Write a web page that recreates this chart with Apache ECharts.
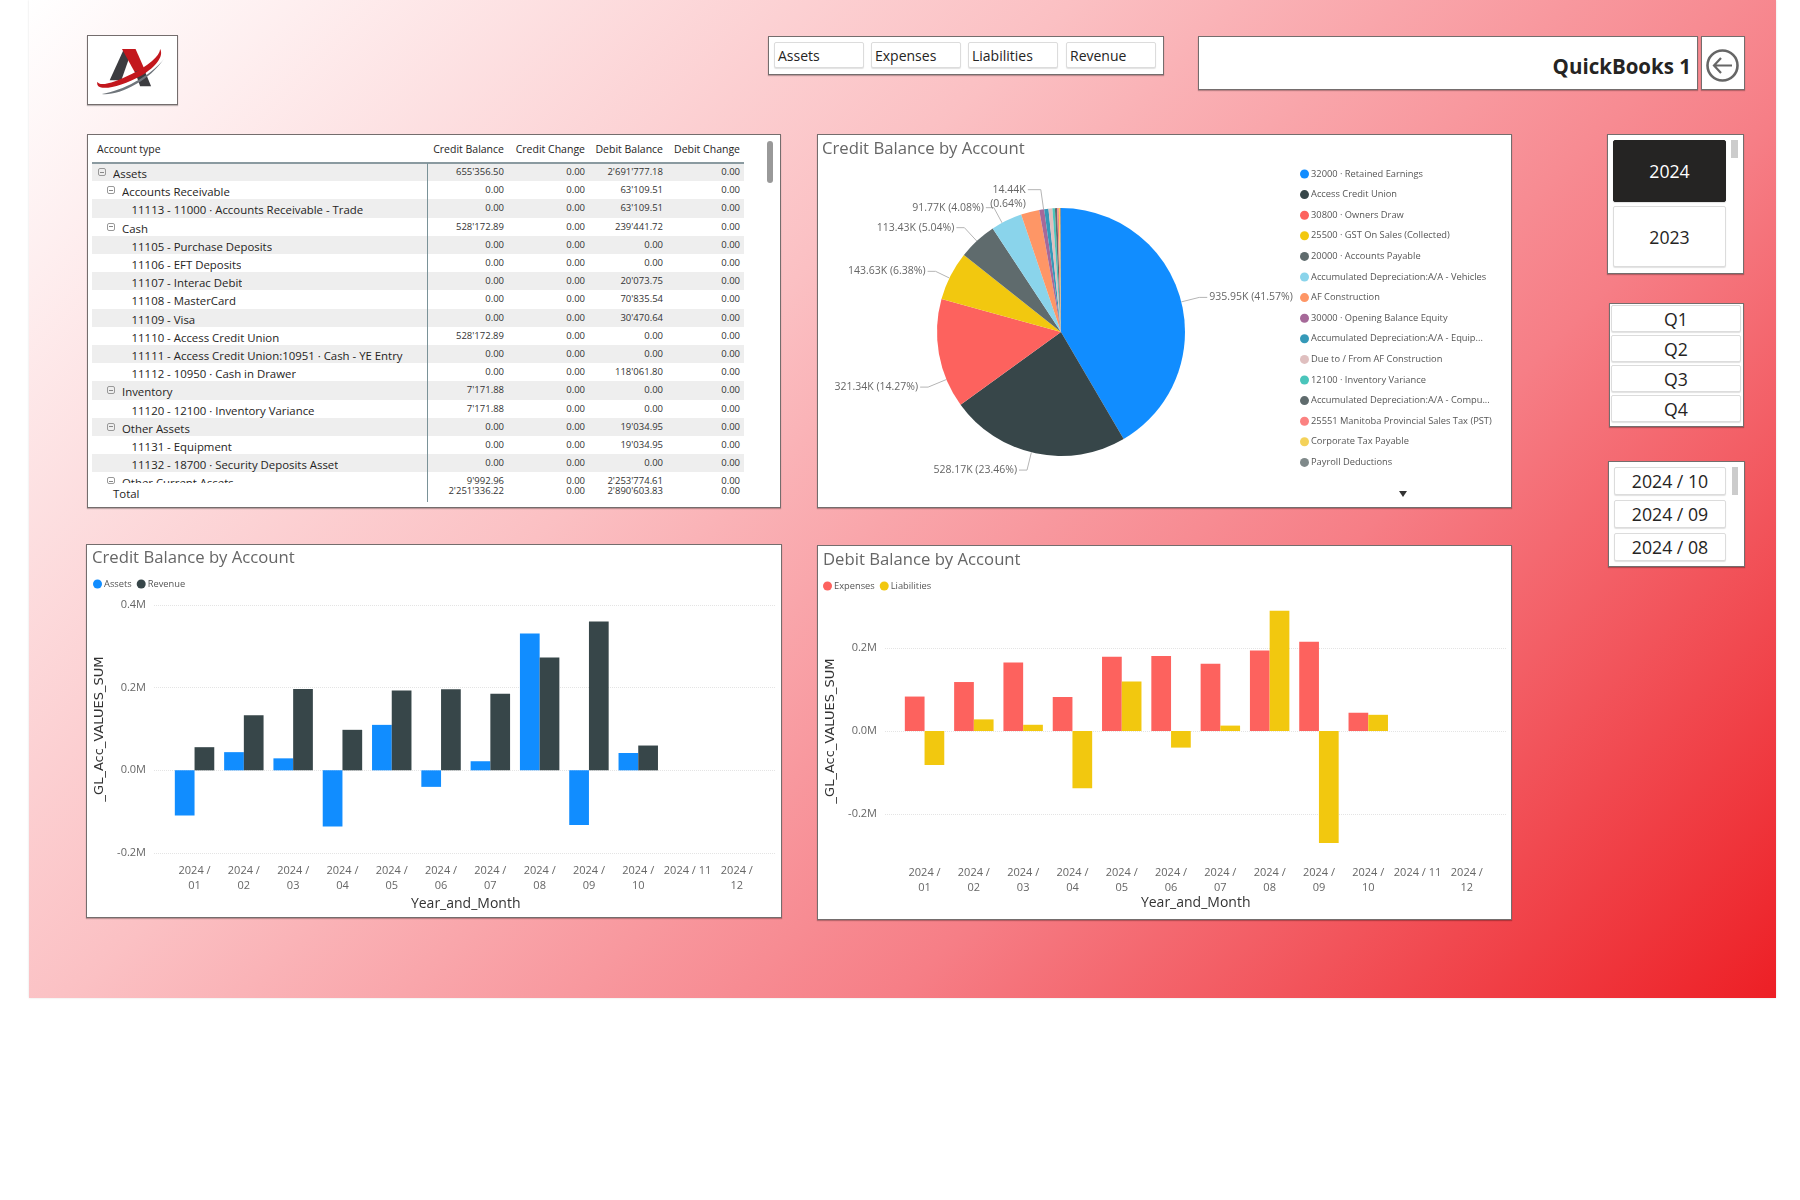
<!DOCTYPE html>
<html>
<head>
<meta charset="utf-8">
<script src="https://cdn.jsdelivr.net/npm/echarts@6/dist/echarts.min.js"></script>
<style>
html,body{margin:0;padding:0;background:#fff;width:1800px;height:1200px;overflow:hidden;font-family:"Open Sans","Noto Sans",sans-serif;color:#252423}
#bg{position:absolute;left:29px;top:0;width:1747px;height:998px;background:linear-gradient(135deg,#fff 0%,#fbc0c3 38%,#f67e86 68%,#ed1f25 100%);box-shadow:0 0 2px rgba(0,0,0,.12)}
.panel{position:absolute;background:#fff;border:1px solid rgba(70,60,60,.75);box-sizing:border-box;box-shadow:0 1px 1px rgba(0,0,0,.25)}
.btn{position:absolute;background:#fff;border:1px solid #dcdcdc;box-sizing:border-box;border-radius:2px;box-shadow:0 1px 1px rgba(0,0,0,.12);display:flex;align-items:center;justify-content:center;font-size:17.7px;color:#252423}
.btn.left{justify-content:flex-start;padding-left:3px;font-size:14px}
.btn.on{background:#252423;color:#fff;border-color:#252423}
.scroll{position:absolute;background:#ccc;z-index:3}
#chart{position:absolute;left:0;top:0;width:1800px;height:1200px;z-index:2}
.t{position:absolute;white-space:nowrap}
.row{position:absolute;left:92px;width:652px;height:18.2px}
.lab{position:absolute;font-size:11.4px;color:#252423;white-space:nowrap}
.num{position:absolute;font-size:9.5px;color:#333;text-align:right;white-space:nowrap;width:80px}
.hdr{position:absolute;font-size:10.5px;color:#252423;text-align:right;white-space:nowrap;width:90px;top:141px;line-height:16px}
.exp{position:absolute;width:8px;height:8px;border:1px solid #999;border-radius:2px;box-sizing:border-box}
.exp:after{content:"";position:absolute;left:1px;right:1px;top:2.5px;height:1px;background:#888}
</style>
</head>
<body>
<div id="bg"></div>
<div id="ui"></div>
<div id="chart"></div>
<script>
// ---------- data ----------
const months = ['2024 /\n01','2024 /\n02','2024 /\n03','2024 /\n04','2024 /\n05','2024 /\n06','2024 /\n07','2024 /\n08','2024 /\n09','2024 /\n10','2024 / 11','2024 /\n12'];
const assets      = [-0.109,0.044,0.029,-0.136,0.110,-0.040,0.022,0.331,-0.132,0.042,null,null];
const revenue     = [0.056,0.133,0.197,0.098,0.193,0.196,0.185,0.273,0.360,0.060,null,null];
const expenses    = [0.083,0.118,0.165,0.082,0.179,0.181,0.162,0.194,0.215,0.044,null,null];
const liabilities = [-0.082,0.028,0.015,-0.138,0.119,-0.040,0.013,0.290,-0.270,0.039,null,null];

const pieNames = ['32000 · Retained Earnings','Access Credit Union','30800 · Owners Draw','25500 · GST On Sales (Collected)','20000 · Accounts Payable','Accumulated Depreciation:A/A - Vehicles','AF Construction','30000 · Opening Balance Equity','Accumulated Depreciation:A/A - Equip...','Due to / From AF Construction','12100 · Inventory Variance','Accumulated Depreciation:A/A - Compu...','25551 Manitoba Provincial Sales Tax (PST)','Corporate Tax Payable','Payroll Deductions'];
const pieValues = [935.95,528.17,321.34,143.63,113.43,91.77,53.9,14.44,12.5,11.5,7.17,6.5,4.8,3.8,2.6];
const pieLabelled = [true,true,true,true,true,true,false,true,false,false,false,false,false,false,false];
const pieColors = ['#118DFF','#374649','#FD625E','#F2C80F','#5F6B6D','#8AD4EB','#FE9666','#A66999','#3599B8','#DFBFBF','#4AC5BB','#5F6B6D','#FB8281','#F4D25A','#7F898A'];

const tableHeaders = ['Credit Balance','Credit Change','Debit Balance','Debit Change'];
const accountTypes = ['Assets','Accounts Receivable','11113 - 11000 · Accounts Receivable - Trade','Cash','11105 - Purchase Deposits','11106 - EFT Deposits','11107 - Interac Debit','11108 - MasterCard','11109 - Visa','11110 - Access Credit Union','11111 - Access Credit Union:10951 · Cash - YE Entry','11112 - 10950 · Cash in Drawer','Inventory','11120 - 12100 · Inventory Variance','Other Assets','11131 - Equipment','11132 - 18700 · Security Deposits Asset','Other Current Assets'];
const accountLevels = [0,1,2,1,2,2,2,2,2,2,2,2,1,2,1,2,2,1];
const creditBalance = ["655'356.50","0.00","0.00","528'172.89","0.00","0.00","0.00","0.00","0.00","528'172.89","0.00","0.00","7'171.88","7'171.88","0.00","0.00","0.00","9'992.96"];
const creditChange  = ["0.00","0.00","0.00","0.00","0.00","0.00","0.00","0.00","0.00","0.00","0.00","0.00","0.00","0.00","0.00","0.00","0.00","0.00"];
const debitBalance  = ["2'691'777.18","63'109.51","63'109.51","239'441.72","0.00","0.00","20'073.75","70'835.54","30'470.64","0.00","0.00","118'061.80","0.00","0.00","19'034.95","19'034.95","0.00","2'253'774.61"];
const debitChange   = ["0.00","0.00","0.00","0.00","0.00","0.00","0.00","0.00","0.00","0.00","0.00","0.00","0.00","0.00","0.00","0.00","0.00","0.00"];
const totalRow = ["2'251'336.22","0.00","2'890'603.83","0.00"];

const typeButtons = ['Assets','Expenses','Liabilities','Revenue'];
const yearButtons = ['2024','2023'];
const quarterButtons = ['Q1','Q2','Q3','Q4'];
const monthButtons = ['2024 / 10','2024 / 09','2024 / 08'];

// ---------- page furniture ----------
const ui = document.getElementById('ui');
function box(cls,l,t,w,h,text){const d=document.createElement('div');d.className=cls;d.style.cssText=`left:${l}px;top:${t}px;width:${w}px;height:${h}px`;if(text!==undefined)d.textContent=text;ui.appendChild(d);return d;}
box('panel',87,35,91,70).innerHTML='<svg viewBox="6 15 273 210" width="89" height="68" style="display:block"><path d="M72 152L116 55H142L108 152Z" fill="#3c3c40"/><path d="M110 55H152L184 128H150Z" fill="#c3171d"/><path d="M150 125L178 118L200 170H166Z" fill="#3c3c40"/><path d="M34 156C26 190 100 176 172 136C214 110 240 78 228 55C226 78 190 108 140 132C90 156 42 174 34 156Z" fill="#c3171d"/><path d="M48 194C100 200 194 154 240 85C200 138 110 184 48 194Z" fill="#6f757b"/></svg>';
box('panel',768,36,396,39);
const typeX=[774,871,968,1066];
typeButtons.forEach((s,i)=>box('btn left',typeX[i],42,90,26,s));
const tb=box('panel',1198,36,500,54);
const tt=document.createElement('div');tt.className='t';tt.style.cssText='right:6px;top:10px;font-size:20.5px;font-weight:700;line-height:38px;color:#252423';tt.textContent='QuickBooks 1';tb.appendChild(tt);
box('panel',1701,36,44,54).innerHTML='<svg width="42" height="52" viewBox="0 0 42 52" style="display:block"><circle cx="20.5" cy="28.5" r="15" fill="none" stroke="#666" stroke-width="2.6"/><path d="M12 28.5H30M19 21L12 28.5L19 36" fill="none" stroke="#666" stroke-width="2.2"/></svg>';
box('panel',87,134,694,374);
box('panel',817,134,695,374);
box('panel',86,544,696,374);
box('panel',817,545,695,375);
box('panel',1607,134,137,140);
box('btn on',1613,140,113,62,yearButtons[0]);
box('btn',1613,206,113,61,yearButtons[1]);
box('scroll',1731,140,7,18);
box('panel',1609,303,135,124);
const qY=[305,335,365,395];
quarterButtons.forEach((q,i)=>box('btn',1611,qY[i],130,27,q));
box('panel',1608,461,137,106);
const mY=[467,500,533];
monthButtons.forEach((m,i)=>box('btn',1614,mY[i],112,28,m));
box('scroll',1732,467,6,28);
box('t',1398,489,10,10).innerHTML='<svg width="10" height="10" style="display:block"><path d="M1 2H9L5 8Z" fill="#333"/></svg>';

// ---------- table ----------
const colRight=[504,585,663,740];
const colData=[creditBalance,creditChange,debitBalance,debitChange];
const rowH=18.2,rowTop=163;
function tx(cls,css,text,parent){const d=document.createElement('div');d.className=cls;d.style.cssText=css;d.textContent=text;(parent||ui).appendChild(d);return d;}
tx('lab','left:97px;top:141px;font-size:10.5px;line-height:16px','Account type');
tableHeaders.forEach((h,i)=>tx('hdr',`left:${colRight[i]-90}px`,h));
const clip=document.createElement('div');clip.style.cssText=`position:absolute;left:0;top:${rowTop}px;width:800px;height:323px;overflow:hidden`;ui.appendChild(clip);
const textX=[113,122,131.6],expX=[97.5,106.7];
accountTypes.forEach((name,i)=>{
  const top=i*rowH;
  if(i%2===0&&i<17){const b=document.createElement('div');b.className='row';b.style.cssText=`top:${top}px;background:#eeeeee`;clip.appendChild(b);}
  const last=i===17;
  tx('lab',`left:${textX[accountLevels[i]]}px;top:${top}px;line-height:22px;height:${last?11:22}px;overflow:hidden`,name,clip);
  if(accountLevels[i]<2){const e=document.createElement('div');e.className='exp';e.style.cssText=`left:${expX[accountLevels[i]]}px;top:${top+5}px;${last?'height:7px;':''}`;clip.appendChild(e);}
  colData.forEach((c,j)=>tx('num',`left:${colRight[j]-80}px;top:${top}px;line-height:18px`,c[i],clip));
});
tx('lab','left:113px;top:483px;line-height:22px','Total');
totalRow.forEach((v,j)=>tx('num',`left:${colRight[j]-80}px;top:482px;line-height:18px`,v));
box('t',92,162,652,1.5).style.background='#8a9aa0';
box('t',427,163,1,339).style.background='#7a9298';
box('t',767,141,6,42).style.cssText+=';background:#999;border-radius:3px';

// ---------- chart ----------
const c = echarts.init(document.getElementById('chart'),null,{renderer:'canvas'});
const FONT='"Open Sans","Noto Sans",sans-serif';
const axisLabelStyle={color:'#666',fontSize:11,fontFamily:FONT};
const gridLine={show:true,lineStyle:{color:'#e4e4e4',type:'dotted',width:1}};
function gridValueAxis(idx,min,max,trim){return {gridIndex:idx,type:'value',min,max,interval:0.2,axisLine:{show:false},axisTick:{show:false},
  splitLine:Object.assign({},gridLine,trim?{showMinLine:false,showMaxLine:false}:{}),
  axisLabel:Object.assign({},axisLabelStyle,{margin:8,formatter:v=>v.toFixed(1)+'M',showMinLabel:!trim,showMaxLabel:!trim}),
  name:'_GL_Acc_VALUES_SUM',nameLocation:'middle',nameRotate:90,nameGap:48,nameTextStyle:{fontFamily:'"DejaVu Sans",sans-serif',fontSize:13,color:'#333'}};}
function plainY(idx,min,max){return {gridIndex:idx,type:'value',min,max,interval:0.2,show:false,splitLine:{show:false}};}
function catX(idx,margin,gap){return {gridIndex:idx,type:'category',data:months,axisLine:{show:false},axisTick:{show:false},
  axisLabel:Object.assign({},axisLabelStyle,{interval:0,margin,lineHeight:15,verticalAlign:'top'}),
  name:'Year_and_Month',nameLocation:'middle',nameGap:gap,nameTextStyle:{fontFamily:FONT,fontSize:14,color:'#333',verticalAlign:'top'}};}
function hiddenX(idx){return {gridIndex:idx,type:'value',min:0,max:1,show:false};}
function bar(name,data,color,ax){return {type:'bar',name,data,xAxisIndex:ax,yAxisIndex:ax,barCategoryGap:'20%',barGap:0,itemStyle:{color},silent:true};}
const pieData=pieNames.map((n,i)=>({name:n,value:pieValues[i],
  itemStyle:{color:pieColors[i]},label:{show:pieLabelled[i]},labelLine:{show:pieLabelled[i]}}));
const titleStyle={fontFamily:FONT,fontSize:16.7,fontWeight:'normal',color:'#666'};
const legendBase={icon:'circle',itemWidth:9,itemHeight:9,textStyle:{fontFamily:FONT,color:'#555',fontSize:9.3,padding:[0,0,0,-3]}};
const PIE_CX=1061,PIE_CY=332,PIE_R=124;
const labelDx=[0,1,3,-2,3,14,0,3,0,0,0,0,0,0,0];
const labelDy=[1,5,31,1,-9,-13,0,-1,0,0,0,0,0,0,0];
// the elbow of each leader line sits beside the label; its other end is where the line to the centre crosses the rim
function pieLabelLayout(p){
  const i=p.dataIndex,R=p.labelRect;
  const left=R.x+labelDx[i],right=left+R.width,twoLine=R.height>20;
  const y=R.y+labelDy[i]+(twoLine?7:R.height/2);
  const onRight=left>PIE_CX,gap=twoLine?15:10;
  const ex=onRight?left-gap:right+gap,ax=onRight?left-2:right+2;
  const vx=ex-PIE_CX,vy=y-PIE_CY,len=Math.hypot(vx,vy);
  return {dx:labelDx[i],dy:labelDy[i],labelLinePoints:[[PIE_CX+vx/len*PIE_R,PIE_CY+vy/len*PIE_R],[ex,y],[ax,y]]};
}
c.setOption({
  backgroundColor:'transparent',
  animation:false,
  title:[
    {text:'Credit Balance by Account',left:817,top:136,textStyle:titleStyle},
    {text:'Credit Balance by Account',left:87,top:545,textStyle:titleStyle},
    {text:'Debit Balance by Account',left:818,top:547,textStyle:titleStyle}
  ],
  legend:[
    Object.assign({},legendBase,{data:pieNames,orient:'vertical',left:1295,top:164.5,itemGap:11.6,selectedMode:false}),
    Object.assign({},legendBase,{data:['Assets','Revenue'],left:88,top:574.5,itemGap:5,selectedMode:false}),
    Object.assign({},legendBase,{data:['Expenses','Liabilities'],left:818,top:576.5,itemGap:5,selectedMode:false})
  ],
  grid:[
    {left:154,top:605,width:621,height:248},
    {left:169.9,top:605,width:591.6,height:248},
    {left:885,top:565,width:622,height:332},
    {left:899.9,top:565,width:591.6,height:332}
  ],
  xAxis:[hiddenX(0),catX(1,10,44),hiddenX(2),catX(3,-32,-16)],
  yAxis:[gridValueAxis(0,-0.2,0.4,false),plainY(1,-0.2,0.4),gridValueAxis(2,-0.4,0.4,true),plainY(3,-0.4,0.4)],
  series:[
    bar('Assets',assets,'#118DFF',1),
    bar('Revenue',revenue,'#374649',1),
    bar('Expenses',expenses,'#FD625E',3),
    bar('Liabilities',liabilities,'#F2C80F',3),
    {type:'pie',name:'Credit Balance by Account',center:[PIE_CX,PIE_CY],radius:[0,PIE_R],startAngle:90,clockwise:true,percentPrecision:2,
     data:pieData,silent:true,
     label:{fontFamily:FONT,fontSize:10.5,color:'#666',lineHeight:14,
       formatter:p=>p.value<20?`${p.value.toFixed(2)}K\n(${p.percent.toFixed(2)}%)`:`${p.value.toFixed(2)}K (${p.percent.toFixed(2)}%)`},
     labelLine:{length:12,length2:12,lineStyle:{color:'#b5b5b5',width:1}},
     labelLayout:pieLabelLayout}
  ]
});
</script>
</body>
</html>
